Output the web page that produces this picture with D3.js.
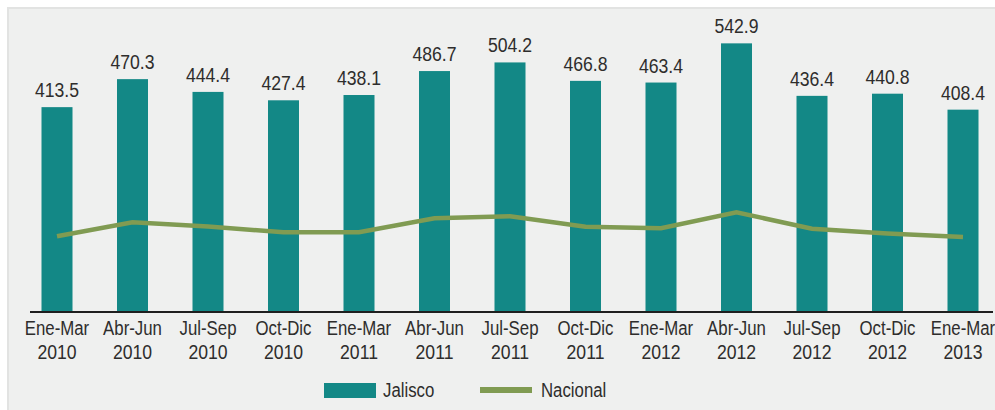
<!DOCTYPE html>
<html>
<head>
<meta charset="utf-8">
<script src="https://cdn.jsdelivr.net/npm/d3@7"></script>
<style>
  html, body { margin: 0; padding: 0; background: #ffffff; }
  svg text { font-family: "Liberation Sans", Arial, sans-serif; fill: #2e2d2c; }
</style>
</head>
<body>
<svg id="chart" width="995" height="410"></svg>
<script>
const periods = ["Ene-Mar", "Abr-Jun", "Jul-Sep", "Oct-Dic", "Ene-Mar", "Abr-Jun", "Jul-Sep", "Oct-Dic", "Ene-Mar", "Abr-Jun", "Jul-Sep", "Oct-Dic", "Ene-Mar"];
const years = ["2010", "2010", "2010", "2010", "2011", "2011", "2011", "2011", "2012", "2012", "2012", "2012", "2013"];
const jalisco = [413.5, 470.3, 444.4, 427.4, 438.1, 486.7, 504.2, 466.8, 463.4, 542.9, 436.4, 440.8, 408.4];
const nacional = [151.5, 179.9, 171.4, 159.6, 159.6, 188.0, 192.1, 171.0, 167.7, 200.2, 166.9, 157.2, 150.1];
const seriesNames = ["Jalisco", "Nacional"];

const svg = d3.select("#chart");
const W = 995, H = 410;

// panel
svg.append("rect").attr("x", 8).attr("y", 8).attr("width", W).attr("height", H)
  .attr("fill", "#eff0ef").attr("stroke", "#e2e3e2").attr("stroke-width", 2);

const baseY = 311;
const idx = d3.range(jalisco.length);
const x = d3.scalePoint().domain(idx).range([57, 963]);
const bw = 31;
const y = d3.scaleLinear().domain([0, 600]).range([baseY, baseY - 600 * 0.493]);

const barColor = "#138886";
const lineColor = "#809b52";

// narrow text helper
function narrow(sel, sx) {
  sel.attr("transform", function () {
    const tx = +this.getAttribute("data-x"), ty = +this.getAttribute("data-y");
    return `translate(${tx},${ty}) scale(${sx},1)`;
  });
}

svg.append("g").selectAll("rect").data(jalisco).join("rect")
  .attr("x", (d, i) => x(i) - bw / 2)
  .attr("width", bw)
  .attr("y", d => y(d))
  .attr("height", d => y(0) - y(d))
  .attr("fill", barColor);

svg.append("g").selectAll("text").data(jalisco).join("text")
  .attr("data-x", (d, i) => x(i))
  .attr("data-y", d => y(d) - 10)
  .attr("text-anchor", "middle")
  .attr("font-size", 21)
  .text(d => d.toFixed(1))
  .call(narrow, 0.84);

// axis line
svg.append("line").attr("x1", 30).attr("x2", 993).attr("y1", baseY + 1).attr("y2", baseY + 1)
  .attr("stroke", "#1f1f1f").attr("stroke-width", 2);

// category labels
svg.append("g").selectAll("text").data(idx).join("text")
  .attr("data-x", i => x(i)).attr("data-y", 335)
  .attr("text-anchor", "middle").attr("font-size", 21)
  .text(i => periods[i]).call(narrow, 0.8);
svg.append("g").selectAll("text").data(idx).join("text")
  .attr("data-x", i => x(i)).attr("data-y", 359)
  .attr("text-anchor", "middle").attr("font-size", 21)
  .text(i => years[i]).call(narrow, 0.84);

// line
const line = d3.line().x((d, i) => x(i)).y(d => y(d));
svg.append("path").datum(nacional).attr("d", line)
  .attr("fill", "none").attr("stroke", lineColor).attr("stroke-width", 4.5)
  .attr("stroke-linejoin", "miter");

// legend
const lg = svg.append("g");
lg.append("rect").attr("x", 324).attr("y", 383).attr("width", 52).attr("height", 15).attr("fill", barColor);
lg.append("text").attr("data-x", 383).attr("data-y", 397).attr("font-size", 21).text(seriesNames[0]).call(narrow, 0.8);
lg.append("line").attr("x1", 480).attr("x2", 532).attr("y1", 390).attr("y2", 390)
  .attr("stroke", lineColor).attr("stroke-width", 6);
lg.append("text").attr("data-x", 541).attr("data-y", 397).attr("font-size", 21).text(seriesNames[1]).call(narrow, 0.8);
</script>
</body>
</html>
